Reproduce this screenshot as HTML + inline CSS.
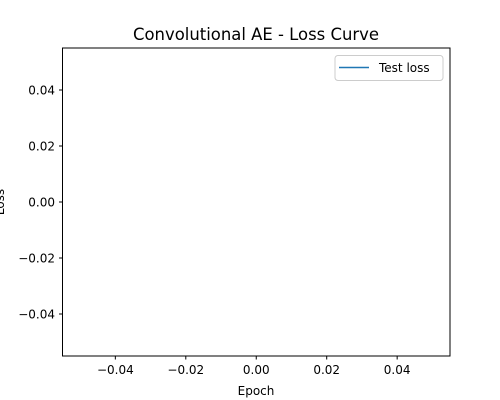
<!DOCTYPE html>
<html><head><meta charset="utf-8"><style>body{margin:0;background:#fff}svg{display:block;font-family:"DejaVu Sans","Liberation Sans",sans-serif}</style></head>
<body>
<svg id="chart" width="500" height="400">
<rect x="0" y="0" width="500" height="400" fill="#fff"/>
<text x="256" y="40" font-size="16.4" text-anchor="middle" textLength="246" lengthAdjust="spacingAndGlyphs">Convolutional AE - Loss Curve</text>
<g id="ticks"></g>
<rect x="62.5" y="48" width="387.5" height="308" fill="none" stroke="#000" stroke-width="1"/>
<text x="256" y="395" font-size="12" text-anchor="middle">Epoch</text>
<text transform="translate(4,202) rotate(-90)" font-size="12" text-anchor="middle">Loss</text>
<g>
<rect x="335" y="55.5" width="108" height="25" rx="3" fill="#fff" stroke="#ccc" stroke-width="1"/>
<line x1="339" y1="67.5" x2="369" y2="67.5" stroke="#1f77b4" stroke-width="1.5"/>
<text x="379" y="72" font-size="12">Test loss</text>
</g>
</svg>
<script>
const xTicks = [-0.04, -0.02, 0.00, 0.02, 0.04];
const yTicks = [-0.04, -0.02, 0.00, 0.02, 0.04];
const testLoss = [];
const x0=62.5,x1=450,y0=356,y1=48,dmin=-0.055,dmax=0.055;
const sx=v=>x0+(v-dmin)/(dmax-dmin)*(x1-x0);
const sy=v=>y0-(v-dmin)/(dmax-dmin)*(y0-y1);
const g=document.getElementById('ticks');
const NS='http://www.w3.org/2000/svg';
const fmt=v=>(v<0?'\u2212':'')+Math.abs(v).toFixed(2);
xTicks.forEach(v=>{
 const l=document.createElementNS(NS,'line');
 l.setAttribute('x1',sx(v));l.setAttribute('x2',sx(v));l.setAttribute('y1',356);l.setAttribute('y2',359.5);l.setAttribute('stroke','#000');
 
 
 g.appendChild(l);
 const t=document.createElementNS(NS,'text');
 t.setAttribute('x',sx(v));t.setAttribute('y',374);t.setAttribute('font-size','12');t.setAttribute('text-anchor','middle');t.textContent=fmt(v);
 
 
 g.appendChild(t);
});
yTicks.forEach(v=>{
 const l=document.createElementNS(NS,'line');
 l.setAttribute('x1',59);l.setAttribute('x2',62.5);l.setAttribute('y1',sy(v));l.setAttribute('y2',sy(v));l.setAttribute('stroke','#000');
 
 
 g.appendChild(l);
 const t=document.createElementNS(NS,'text');
 t.setAttribute('x',55);t.setAttribute('y',sy(v)+4.5);t.setAttribute('font-size','12');t.setAttribute('text-anchor','end');t.textContent=fmt(v);
 
 
 g.appendChild(t);
});
if(testLoss.length){
 const p=document.createElementNS(NS,'polyline');
 p.setAttribute('points',testLoss.map((v,i)=>sx(i)+','+sy(v)).join(' '));
 p.setAttribute('fill','none');p.setAttribute('stroke','#1f77b4');p.setAttribute('stroke-width','1.5');
 
 
 document.getElementById('chart').appendChild(p);
}
</script>
</body></html>
